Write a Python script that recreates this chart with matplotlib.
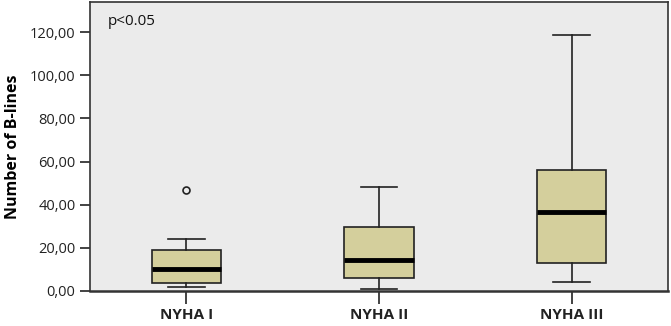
import matplotlib
matplotlib.use("Agg")
import matplotlib.pyplot as plt
from matplotlib.ticker import FuncFormatter

plt.rcParams['font.family'] = ['Open Sans', 'DejaVu Sans']

# data
groups = ['NYHA I', 'NYHA II', 'NYHA III']
whislo = [2, 1, 4]
q1 = [3.7, 6, 13]
med = [10, 14.4, 36.5]
q3 = [19, 29.6, 56]
whishi = [24, 48, 118.5]
fliers = [[47], [], []]

stats = []
for i, g in enumerate(groups):
    stats.append(dict(label=g, whislo=whislo[i], q1=q1[i], med=med[i],
                      q3=q3[i], whishi=whishi[i], fliers=fliers[i]))

fig = plt.figure(figsize=(6.71, 3.26), dpi=100)
ax = fig.add_axes([90 / 671, 35 / 326, 578 / 671, 289 / 326])
ax.set_facecolor('#EBEBEB')

ax.bxp(stats, positions=[1, 2, 3], widths=0.36, patch_artist=True,
       boxprops=dict(facecolor='#D4CF9C', edgecolor='#222222', linewidth=1.2),
       medianprops=dict(color='black', linewidth=3.5),
       whiskerprops=dict(color='#222222', linewidth=1.2),
       capprops=dict(color='#222222', linewidth=1.2),
       capwidths=0.19,
       flierprops=dict(marker='o', markersize=5, markerfacecolor='none',
                       markeredgecolor='#222222', markeredgewidth=1.2))

ax.set_xlim(0.5, 3.5)
ax.set_ylim(0, 134)
ax.set_yticks([0, 20, 40, 60, 80, 100, 120])
ax.yaxis.set_major_formatter(FuncFormatter(lambda v, p: f'{v:.2f}'.replace('.', ',')))
ax.tick_params(axis='y', length=7, width=1.2, labelsize=10.5, colors='#222222')
ax.tick_params(axis='x', length=9, width=1.2, pad=3, colors='#222222')
for lbl in ax.get_xticklabels():
    lbl.set_fontweight('bold')
    lbl.set_fontsize(11)

for s in ax.spines.values():
    s.set_color('#333333')
    s.set_linewidth(1.2)
ax.spines['bottom'].set_linewidth(1.8)

ax.set_ylabel('Number of B-lines', fontsize=11.5, fontweight='bold', labelpad=6)
ax.text(0.03, 0.96, 'p<0.05', transform=ax.transAxes, fontsize=11,
        va='top', ha='left', color='#111111')

fig.savefig('out.png', dpi=100)
